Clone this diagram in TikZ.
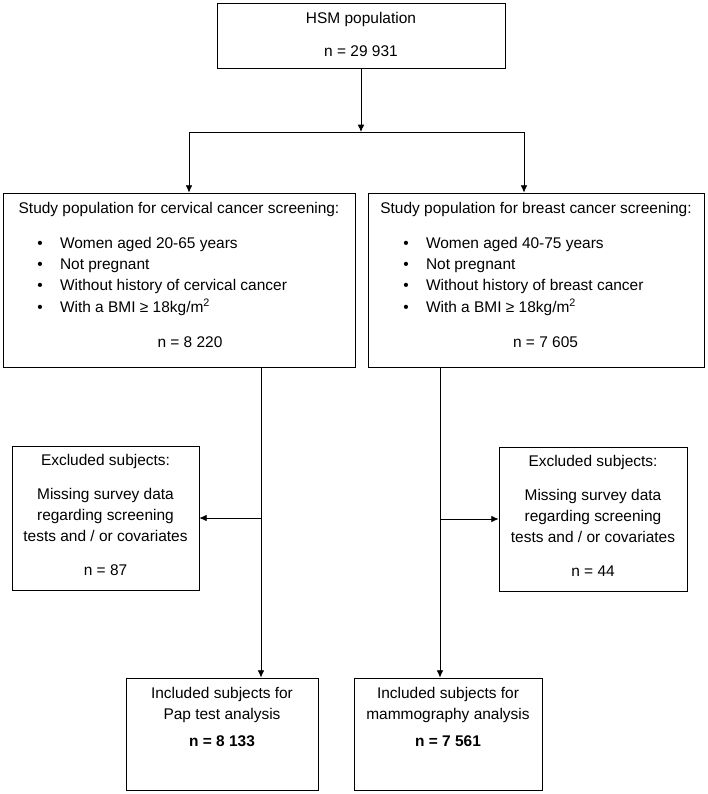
\documentclass[tikz,border=0pt]{standalone}
\usepackage{fontspec}
\setmainfont{Liberation Sans}
\usetikzlibrary{arrows.meta}

\tikzset{
  frame/.style={draw, line width=0.6pt, inner sep=0pt},
  txt/.style={font=\fontsize{11.6}{15.5}\selectfont, inner sep=0pt, align=center, anchor=base},
  bullets/.style={font=\fontsize{11.6}{16.1}\selectfont, inner sep=0pt, anchor=base west},
  flow/.style={line width=0.6pt, -{Latex[length=5.5pt,width=5pt]}},
  link/.style={line width=0.6pt}
}

\begin{document}
\begin{tikzpicture}[x=0.75pt, y=-0.75pt]
\useasboundingbox (0,0) rectangle (708,794);
\fill[white] (0,0) rectangle (708,794);

% Cadres
\node[frame, minimum width=216pt, minimum height=48.75pt] (hsm) at (361,35.5) {};
\node[frame, minimum width=264pt, minimum height=130.5pt] (cstudy) at (179,280) {};
\node[frame, minimum width=252pt, minimum height=130.5pt] (bstudy) at (536,280) {};
\node[frame, minimum width=140.25pt, minimum height=108pt] (cexcl) at (105.5,518) {};
\node[frame, minimum width=141pt, minimum height=108pt] (bexcl) at (593,519) {};
\node[frame, minimum width=144pt, minimum height=84pt] (cpap) at (222,734) {};
\node[frame, minimum width=141pt, minimum height=84pt] (bmam) at (448,734) {};

% Textes (ancre sur la derniere ligne)
\node[txt] (hsmtxt) at (361,56) {HSM population\\[9.25pt] n = 29 931};

\node[txt] (ctitle) at (179,213) {Study population for cervical cancer screening:};
\node[bullets] (clist) at (37,248) {\begin{tabular}[t]{@{}l@{\hspace{13pt}}l@{}}
  \textbullet & Women aged 20-65 years\\
  \textbullet & Not pregnant\\
  \textbullet & Without history of cervical cancer\\
  \textbullet & With a BMI ≥ 18kg/m\textsuperscript{2}
\end{tabular}};
\node[txt] (cn) at (190,347) {n = 8 220};

\node[txt] (btitle) at (536,213) {Study population for breast cancer screening:};
\node[bullets] (blist) at (403,248) {\begin{tabular}[t]{@{}l@{\hspace{13pt}}l@{}}
  \textbullet & Women aged 40-75 years\\
  \textbullet & Not pregnant\\
  \textbullet & Without history of breast cancer\\
  \textbullet & With a BMI ≥ 18kg/m\textsuperscript{2}
\end{tabular}};
\node[txt] (bn) at (545.5,347) {n = 7 605};

\node[txt] (cexcltxt) at (105.5,575) {Excluded subjects:\\[10pt] Missing survey data\\ regarding screening\\ tests and / or covariates\\[10pt] n = 87};
\node[txt] (bexcltxt) at (593,576) {Excluded subjects:\\[10pt] Missing survey data\\ regarding screening\\ tests and / or covariates\\[10pt] n = 44};

\node[txt] (cpaptxt) at (222,746) {Included subjects for\\ Pap test analysis\\[4.75pt] \textbf{n = 8 133}};
\node[txt] (bmamtxt) at (448,746) {Included subjects for\\ mammography analysis\\[4.75pt] \textbf{n = 7 561}};

% Fleches
\coordinate (fork) at (hsm.south |- 0,132);
\coordinate (forkl) at (189,132);
\coordinate (forkr) at (524,132);
\draw[flow] (hsm.south) -- (fork);
\draw[link] (forkl) -- (forkr);
\draw[flow] (forkl) -- (forkl |- cstudy.north);
\draw[flow] (forkr) -- (forkr |- bstudy.north);

\coordinate (cjoin) at (cstudy.south -| 261,0);
\draw[flow] (cjoin) -- (cjoin |- cpap.north);
\draw[flow] (cjoin |- cexcl.east) -- (cexcl.east);

\coordinate (bjoin) at (bstudy.south -| 440,0);
\draw[flow] (bjoin) -- (bjoin |- bmam.north);
\draw[flow] (bjoin |- bexcl.west) -- (bexcl.west);
\end{tikzpicture}
\end{document}
